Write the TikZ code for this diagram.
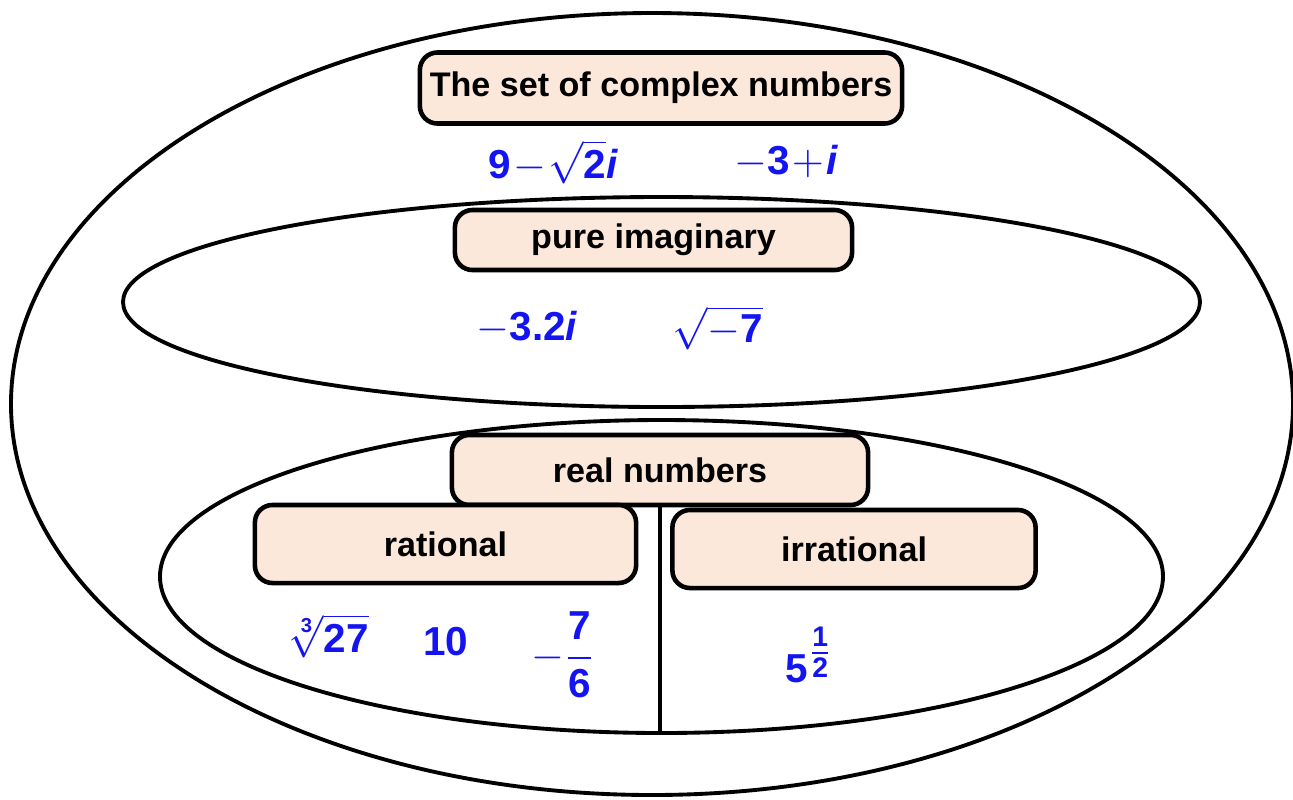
\documentclass[tikz,border=0pt]{standalone}
\usepackage{amsmath}
\usepackage{fontspec}
\setmainfont{Liberation Sans}
\definecolor{peach}{RGB}{252,232,218}
\definecolor{numblue}{RGB}{20,20,240}
\newcommand\bt[1]{\text{\bfseries #1}}
\newcommand\bi{\text{\bfseries\itshape i}}
\begin{document}
\begin{tikzpicture}[x=0.01cm,y=-0.01cm,
  setline/.style={line width=1.1pt},
  labelbox/.style={draw,line width=1.3pt,fill=peach,rounded corners=5pt,
    minimum width=#1,align=center,font=\bfseries\fontsize{9.7}{12}\selectfont,inner sep=0pt},
  num/.style={text=numblue,font=\fontsize{11.5}{13}\selectfont,inner sep=0pt,
    execute at begin node={\medmuskip=1mu\thinmuskip=1mu}}]
\useasboundingbox (0,0) rectangle (1293,799);
% ellipses
\draw[setline] (652,404) ellipse [x radius=641, y radius=391];
\draw[setline] (661.5,302) ellipse [x radius=538.5, y radius=105];
\draw[setline] (661.5,576.5) ellipse [x radius=501.5, y radius=156.5];
% boxes
\node[labelbox=4.82cm,minimum height=0.71cm] (cplx) at (661,88) {The set of complex numbers};
\node[labelbox=3.97cm,minimum height=0.60cm] (pure) at (653.5,240) {pure imaginary};
\node[labelbox=4.16cm,minimum height=0.70cm] (real) at (660,470) {real numbers};
\coordinate (lineend) at (660,733);
\draw[line width=1.3pt] (real.south) -- (lineend);
\node[labelbox=3.81cm,minimum height=0.78cm] (rat) at (445.5,544) {rational};
\node[labelbox=3.63cm,minimum height=0.78cm] (irr) at (854,549) {irrational};
% numbers
\node[num] (c1) at (553,162) {$\bt{9}-\sqrt{\bt{2}}\bi$};
\node[num] (c2) at (786,162) {$-\bt{3}+\bi$};
\node[num] (p1) at (527,328) {$-\bt{3.2}\bi$};
\node[num] (p2) at (718,328) {$\sqrt{-\bt{7}}$};
\node[num] (r1) at (329,636) {$\sqrt[\bt{3}]{\bt{27}}$};
\node[num] (r2) at (446,642) {$\bt{10}$};
\node[num] (r3) at (563,655) {$-\dfrac{\bt{7}}{\bt{6}}$};
\node[num] (i1) at (810,655) {$\bt{5}^{\genfrac{}{}{}{1}{\bt{1}}{\bt{2}}}$};
\end{tikzpicture}
\end{document}
